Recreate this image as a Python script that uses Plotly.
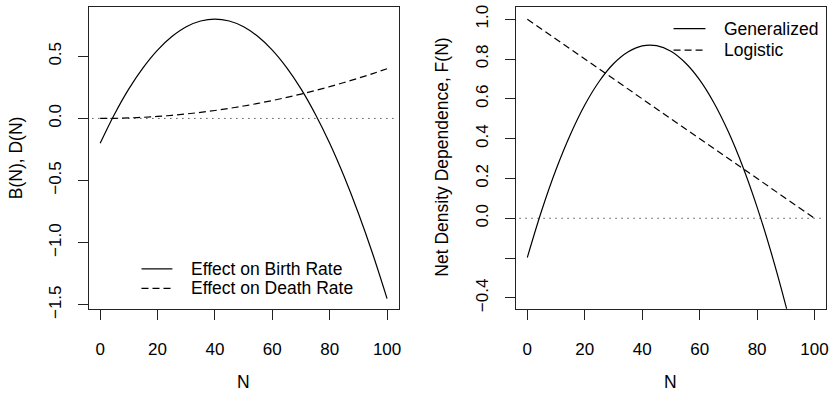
import plotly.graph_objects as go

# Population size grid
N = [0, 5, 10, 15, 20, 25, 30, 35, 40, 45, 50, 55, 60, 65, 70, 75, 80, 85, 90, 95, 100]

# Left panel: density effects on birth and death rates
birth_effect = [-0.200, 0.034, 0.238, 0.409, 0.550, 0.659, 0.738, 0.784, 0.800, 0.784, 0.738,
                0.659, 0.550, 0.409, 0.238, 0.034, -0.200, -0.466, -0.763, -1.091, -1.450]
death_effect = [0.000, 0.001, 0.004, 0.009, 0.016, 0.025, 0.036, 0.049, 0.064, 0.081, 0.100,
                0.121, 0.144, 0.169, 0.196, 0.225, 0.256, 0.289, 0.324, 0.361, 0.400]

# Right panel: net density dependence
N_gen = [0, 5, 10, 15, 20, 25, 30, 35, 40, 45, 50, 55, 60, 65, 70, 75, 80, 85, 90, 95]
generalized = [-0.197, 0.039, 0.245, 0.421, 0.569, 0.687, 0.776, 0.835, 0.866, 0.867, 0.839,
               0.781, 0.695, 0.579, 0.434, 0.260, 0.056, -0.177, -0.439, -0.730]
N_log = [0, 100]
logistic = [1.0, 0.0]

left_yticks = [-1.5, -1.0, -0.5, 0.0, 0.5]
right_yticks = [-0.4, -0.2, 0.0, 0.2, 0.4, 0.6, 0.8, 1.0]
right_ytext = ["\u22120.4", "", "0.0", "0.2", "0.4", "0.6", "0.8", "1.0"]
x_ticks = [0, 20, 40, 60, 80, 100]

left_legend = ["Effect on Birth Rate", "Effect on Death Rate"]
right_legend = ["Generalized", "Logistic"]

FONT = "Liberation Sans, Arial, Helvetica, sans-serif"
FS = 17
FS_TXT = 17.5
LW = 1.2
DASH = "7px,4px"
DOT = "1px,5px"

fig = go.Figure()

fig.add_trace(go.Scatter(x=N, y=birth_effect, mode="lines",
                         line=dict(color="black", width=LW, shape="spline", smoothing=1),
                         name=left_legend[0], xaxis="x", yaxis="y"))
fig.add_trace(go.Scatter(x=N, y=death_effect, mode="lines",
                         line=dict(color="black", width=LW, dash=DASH, shape="spline", smoothing=1),
                         name=left_legend[1], xaxis="x", yaxis="y"))
fig.add_trace(go.Scatter(x=N_gen, y=generalized, mode="lines",
                         line=dict(color="black", width=LW, shape="spline", smoothing=1),
                         name=right_legend[0], xaxis="x2", yaxis="y2"))
fig.add_trace(go.Scatter(x=N_log, y=logistic, mode="lines",
                         line=dict(color="black", width=LW, dash=DASH),
                         name=right_legend[1], xaxis="x2", yaxis="y2"))

# Zero reference lines
for xr, yr in (("x", "y"), ("x2", "y2")):
    fig.add_shape(type="line", xref=f"{xr} domain", yref=yr, x0=0.012, x1=0.985, y0=0, y1=0,
                  line=dict(color="black", width=1, dash=DOT), layer="below")


def px_x(p):
    return p / 833


def px_y(p):
    return 1 - p / 406


# Legend keys and labels (drawn in page pixels)
annotations = []
legend_specs = [
    (left_legend, [False, True], 142, 173, 190, [275, 295]),
    (right_legend, [False, True], 676, 708, 725, [27.5, 49.5]),
]
for labels, dashed, x0, x1, xt, rows in legend_specs:
    for lab, dsh, yy in zip(labels, dashed, rows):
        fig.add_shape(type="line", xref="paper", yref="paper", x0=px_x(x0), x1=px_x(x1),
                      y0=px_y(yy), y1=px_y(yy),
                      line=dict(color="black", width=LW, dash=DASH if dsh else "solid"))
        annotations.append(dict(text=lab, x=px_x(xt), y=px_y(yy), xref="paper", yref="paper",
                                showarrow=False, xanchor="left", yanchor="middle",
                                font=dict(family=FONT, size=FS_TXT, color="black")))

# Axis titles
annotations += [
    dict(text="N", x=px_x(244), y=px_y(392), xref="paper", yref="paper", showarrow=False,
         xanchor="center", yanchor="middle", font=dict(family=FONT, size=FS_TXT)),
    dict(text="N", x=px_x(673), y=px_y(392), xref="paper", yref="paper", showarrow=False,
         xanchor="center", yanchor="middle", font=dict(family=FONT, size=FS_TXT)),
    dict(text="B(N), D(N)", x=px_x(16), y=px_y(160), xref="paper", yref="paper", showarrow=False,
         textangle=-90, xanchor="center", yanchor="middle", font=dict(family=FONT, size=FS_TXT)),
    dict(text="Net Density Dependence, F(N)", x=px_x(444), y=px_y(160), xref="paper", yref="paper",
         showarrow=False, textangle=-90, xanchor="center", yanchor="middle",
         font=dict(family=FONT, size=FS_TXT)),
]

ydom = [px_y(316), px_y(5)]

axis_common = dict(showline=True, linecolor="#222", linewidth=1, mirror=True, ticks="outside",
                   ticklen=10, tickwidth=1, tickcolor="#222", showgrid=False, zeroline=False,
                   tickfont=dict(family=FONT, size=FS, color="black"))

fig.update_layout(
    width=833, height=406, margin=dict(l=0, r=0, t=0, b=0),
    paper_bgcolor="white", plot_bgcolor="white", showlegend=False,
    font=dict(family=FONT, size=FS, color="black"),
    xaxis=dict(domain=[px_x(89), px_x(400)], range=[-4, 104], tickvals=x_ticks,
               ticklabelstandoff=15, anchor="y", **axis_common),
    yaxis=dict(domain=ydom, range=[-1.531, 0.898], tickvals=left_yticks, tickformat=".1f",
               tickangle=-90, ticklabelstandoff=10, anchor="x", **axis_common),
    xaxis2=dict(domain=[px_x(517.7), px_x(829)], range=[-4, 104], tickvals=x_ticks,
                ticklabelstandoff=15, anchor="y2", **axis_common),
    yaxis2=dict(domain=ydom, range=[-0.454, 1.062], tickvals=right_yticks, ticktext=right_ytext,
                tickangle=-90, ticklabelstandoff=10, anchor="x2", **axis_common),
    annotations=annotations,
)

fig.write_html("out.html")
